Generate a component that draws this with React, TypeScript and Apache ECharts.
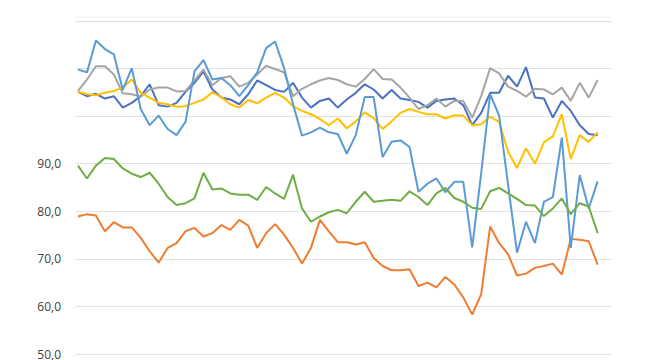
import React, { useEffect, useRef } from "react";
import * as echarts from "echarts";

const seriesNames = ["Series 1", "Series 2", "Series 3", "Series 4", "Series 5", "Series 6"];
const colors = ["#4a72c0", "#ed7d31", "#a5a5a5", "#ffc000", "#5b9bd5", "#70ad47"];

const darkBlue = [105.1,104.2,104.7,103.7,104.2,101.8,102.8,104.2,106.7,102.3, 102.0,102.8,105.1,107.0,109.4,105.6,103.9,103.5,102.5,104.6, 107.5,106.5,105.5,105.1,107.0,103.9,101.8,103.2,103.7,101.8, 103.5,104.9,106.7,105.6,103.7,105.5,103.7,103.4,103.0,101.8, 103.2,103.5,103.7,102.3,98.1,100.7,104.9,104.9,108.5,106.2, 110.3,103.9,103.7,99.7,103.2,101.1,98.1,96.25,96.0];
const orange = [78.9,79.4,79.1,75.8,77.7,76.6,76.6,74.4,71.6,69.2, 72.3,73.3,75.8,76.5,74.7,75.4,77.1,76.1,78.2,77.0, 72.3,75.4,77.3,75.1,72.3,69.0,72.3,78.2,75.8,73.5, 73.5,73.0,73.5,70.2,68.5,67.6,67.6,67.8,64.3,65.0, 64.0,66.2,64.6,61.9,58.3,62.6,76.8,73.3,71.0,66.5, 66.9,68.1,68.5,69.0,66.7,74.2,74.0,73.7,68.8];
const gray = [105.3,107.7,110.5,110.5,108.75,104.8,104.6,104.1,105.6,106.0, 106.0,105.2,105.3,107.5,109.8,106.5,108.0,108.4,106.2,107.0, 108.75,110.6,109.9,109.2,104.2,105.75,106.7,107.5,108.0,107.6, 106.7,106.2,107.8,109.9,107.8,107.7,106.0,103.9,101.5,102.3, 103.7,102.0,103.2,103.2,99.7,104.2,110.1,109.0,106.2,105.3, 104.1,105.75,105.6,104.6,106.0,103.2,107.0,103.9,107.6];
const yellow = [105.1,104.6,104.4,104.9,105.3,106.0,107.7,104.9,103.9,102.8, 102.5,102.0,102.1,102.8,103.5,105.0,104.0,102.5,101.8,103.4, 102.7,103.9,104.9,103.9,102.1,101.1,100.4,99.4,98.1,99.5, 97.4,98.9,100.8,99.6,97.3,98.9,100.7,101.5,100.9,100.4, 100.4,99.5,100.2,100.1,98.1,98.3,99.9,98.8,92.5,89.1, 93.25,90.0,94.5,95.75,100.4,91.0,96.0,94.6,96.6];
const lightBlue = [109.8,109.2,115.9,114.1,113.0,105.5,110.1,101.5,98.1,100.1, 97.3,96.0,98.8,109.4,111.8,107.7,108.0,106.5,104.2,106.5, 109.2,114.3,115.7,110.1,102.5,95.9,96.6,97.6,96.6,96.25, 92.1,96.0,104.0,104.0,91.4,94.6,94.9,93.5,84.1,85.8, 86.9,84.0,86.2,86.2,72.4,88.0,104.6,100.1,85.6,71.3, 77.8,73.3,82.0,83.0,95.5,72.3,87.6,80.6,86.3];
const green = [89.6,86.9,89.6,91.2,91.0,89.0,87.9,87.2,88.1,85.8, 83.0,81.3,81.7,82.7,88.1,84.6,84.8,83.75,83.5,83.5, 82.4,85.1,83.75,82.6,87.7,80.6,77.8,78.9,79.8,80.3, 79.6,82.0,84.1,82.0,82.2,82.4,82.2,84.2,83.0,81.3, 83.75,84.9,82.8,82.0,80.75,80.5,84.2,84.9,83.75,82.6, 81.3,81.2,79.0,80.6,82.7,79.4,81.7,81.0,75.4];

const allSeries = [darkBlue, orange, gray, yellow, lightBlue, green];

export default function App() {
  const ref = useRef<HTMLDivElement>(null);
  useEffect(() => {
    if (!ref.current) return;
    const chart = echarts.init(ref.current, null, { renderer: "svg" });
    chart.setOption({
      animation: false,
      backgroundColor: "#ffffff",
      grid: { left: 75, right: 38, top: 21, bottom: 3, containLabel: false },
      xAxis: {
        type: "value",
        min: -0.335,
        max: 59.6,
        axisLine: { show: false },
        axisTick: { show: false },
        axisLabel: { show: false },
        splitLine: { show: false },
      },
      yAxis: {
        type: "value",
        min: 50,
        max: 120,
        interval: 10,
        axisLine: { show: false },
        axisTick: { show: false },
        axisLabel: {
          margin: 14,
          color: "#404040",
          fontSize: 12,
          fontFamily: "Open Sans",
          formatter: (v: number) => (v < 100 ? v.toFixed(1).replace(".", ",") : ""),
        },
        splitLine: { lineStyle: { color: "#e3e3e3", width: 1 } },
      },
      graphic: [
        {
          type: "line",
          shape: { x1: 75, y1: 17, x2: 610, y2: 17 },
          style: { stroke: "#f0f0f0", lineWidth: 1 },
        },
      ],
      series: allSeries.map((vals, k) => ({
        name: seriesNames[k],
        type: "line",
        data: vals.map((v, i) => [i, v]),
        symbol: "none",
        lineStyle: { width: 2, color: colors[k] },
        itemStyle: { color: colors[k] },
      })),
    });
    return () => chart.dispose();
  }, []);
  return (
    <div
      ref={ref}
      style={{ position: "fixed", left: 0, top: 0, width: 650, height: 360, background: "#fff" }}
    />
  );
}
